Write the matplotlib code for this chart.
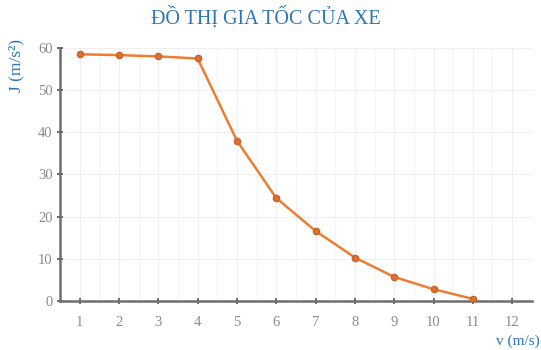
import matplotlib.pyplot as plt
from matplotlib.ticker import MultipleLocator

# van toc (m/s) va gia toc J (m/s^2)
v = [1, 2, 3, 4, 5, 6, 7, 8, 9, 10, 11]
J = [58.5, 58.3, 58.0, 57.5, 38.0, 24.4, 16.6, 10.3, 5.7, 2.8, 0.5]
x_ticks = [1, 2, 3, 4, 5, 6, 7, 8, 9, 10, 11, 12]
y_ticks = [0, 10, 20, 30, 40, 50, 60]

plt.rcParams['font.family'] = ['Liberation Serif', 'DejaVu Serif']

fig = plt.figure(figsize=(5.41, 3.5), dpi=100)
ax = fig.add_axes([0.111, 0.14, 0.872, 0.723])

ax.plot(v, J, color='#ED7D31', lw=1.8, marker='o', ms=4.5,
        mfc='#E07030', mec='#C8642A', zorder=3)

ax.set_xlim(0.5, 12.5)
ax.set_ylim(0, 60)
ax.set_xticks(x_ticks)
ax.set_yticks(y_ticks)
ax.xaxis.set_minor_locator(MultipleLocator(0.5))

ax.grid(which='major', color='#F0F0F0', lw=0.8)
ax.grid(which='minor', axis='x', color='#F5F5F5', lw=0.8)
ax.set_axisbelow(True)

for s in ['top', 'right']:
    ax.spines[s].set_visible(False)
for s in ['left', 'bottom']:
    ax.spines[s].set_color('#6E6E6E')
    ax.spines[s].set_linewidth(1.8)

ax.tick_params(which='major', direction='inout', length=4, width=1.2,
               color='#555555', labelcolor='#8A8A8A', labelsize=10.5)
ax.tick_params(which='minor', length=0)
ax.tick_params(axis='x', pad=9)

fig.text(0.492, 0.948, 'ĐỒ THỊ GIA TỐC CỦA XE', color='#2E75B6',
         fontsize=14.5, ha='center', va='center')
fig.text(0.03, 0.89, 'J (m/s²)', color='#2E75B6', fontsize=12.5,
         rotation=90, ha='center', va='top')
fig.text(0.998, 0.005, 'v (m/s)', color='#2E75B6', fontsize=11,
         ha='right', va='bottom')

fig.savefig('out.png', dpi=100)
